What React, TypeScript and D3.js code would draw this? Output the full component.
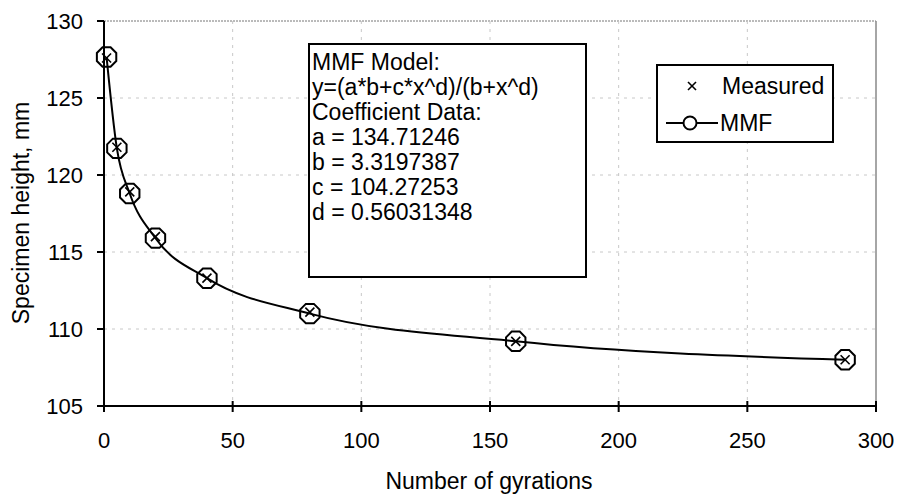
import React from "react";
import * as d3 from "d3";

const gyrations = [1, 5, 10, 20, 40, 80, 160, 288];
const measured = [127.6, 121.8, 118.9, 116.0, 113.3, 111.1, 109.2, 108.0];
const mmf = [127.66, 121.73, 118.8, 115.9, 113.3, 111.0, 109.2, 108.0];
const xTicks = [0, 50, 100, 150, 200, 250, 300];
const yTicks = [105, 110, 115, 120, 125, 130];
const boxLines = [
  "MMF Model:",
  "y=(a*b+c*x^d)/(b+x^d)",
  "Coefficient Data:",
  "a = 134.71246",
  "b = 3.3197387",
  "c = 104.27253",
  "d = 0.56031348",
];

const W = 900;
const H = 499;
const FONT = "'Liberation Sans', Arial, sans-serif";
const FS = 22;
const FL = 23;

function octagon(cx: number, cy: number, r: number) {
  const pts: string[] = [];
  for (let i = 0; i < 8; i++) {
    const a = Math.PI / 8 + (i * Math.PI) / 4;
    pts.push(`${cx + r * Math.cos(a)},${cy + r * Math.sin(a)}`);
  }
  return pts.join(" ");
}

function Cross({ cx, cy, s }: { cx: number; cy: number; s: number }) {
  return (
    <g stroke="#000" strokeWidth={1.6}>
      <line x1={cx - s} y1={cy - s} x2={cx + s} y2={cy + s} />
      <line x1={cx - s} y1={cy + s} x2={cx + s} y2={cy - s} />
    </g>
  );
}

export default function App() {
  const x = d3.scaleLinear().domain([0, 300]).range([104, 876]);
  const y = d3.scaleLinear().domain([105, 130]).range([406, 21]);
  const line = d3
    .line<number>()
    .x((_, i) => x(gyrations[i]))
    .y((d) => y(d))
    .curve(d3.curveMonotoneX);

  return (
    <svg
      width={W}
      height={H}
      style={{ position: "absolute", left: 0, top: 0, background: "#fff" }}
      fontFamily={FONT}
    >
      {/* grid */}
      {yTicks.slice(1).map((t) => (
        <line
          key={"gy" + t}
          x1={x(0)}
          x2={x(300)}
          y1={y(t)}
          y2={y(t)}
          stroke={t === 130 ? "#777" : "#c8c8c8"}
          strokeWidth={1}
          strokeDasharray={t === 130 ? "2,1" : "3,5"}
        />
      ))}
      {xTicks.slice(1, -1).map((t) => (
        <line
          key={"gx" + t}
          x1={x(t)}
          x2={x(t)}
          y1={y(130)}
          y2={y(105)}
          stroke="#c8c8c8"
          strokeWidth={1}
          strokeDasharray="3,5"
        />
      ))}
      {/* right border */}
      <line x1={x(300)} x2={x(300)} y1={y(130)} y2={y(105)} stroke="#888" strokeWidth={1.5} />
      {/* axes */}
      <line x1={x(0)} x2={x(0)} y1={y(130)} y2={y(105) + 1} stroke="#000" strokeWidth={2} />
      <line x1={x(0)} x2={x(300)} y1={y(105)} y2={y(105)} stroke="#000" strokeWidth={2} />
      {yTicks.map((t) => (
        <g key={"yt" + t}>
          <line x1={x(0) - 7} x2={x(0)} y1={y(t)} y2={y(t)} stroke="#000" strokeWidth={2} />
          <text x={x(0) - 21} y={y(t)} dy="0.36em" textAnchor="end" fontSize={FS}>
            {t}
          </text>
        </g>
      ))}
      {xTicks.map((t) => (
        <g key={"xt" + t}>
          <line x1={x(t)} x2={x(t)} y1={y(105) - 5} y2={y(105) + 6} stroke="#000" strokeWidth={2} />
          <text x={x(t)} y={y(105) + 34} dy="0.36em" textAnchor="middle" fontSize={FS}>
            {t}
          </text>
        </g>
      ))}
      <text x={489} y={481} dy="0.36em" textAnchor="middle" fontSize={FL}>
        Number of gyrations
      </text>
      <text
        transform={`translate(21,213) rotate(-90)`}
        dy="0.36em"
        textAnchor="middle"
        fontSize={FL}
      >
        Specimen height, mm
      </text>
      {/* MMF curve */}
      <path d={line(mmf) || ""} fill="none" stroke="#000" strokeWidth={2} />
      {mmf.map((v, i) => (
        <polygon
          key={"o" + i}
          points={octagon(x(gyrations[i]), y(v), 10.5)}
          fill="none"
          stroke="#000"
          strokeWidth={2}
        />
      ))}
      {measured.map((v, i) => (
        <Cross key={"m" + i} cx={x(gyrations[i])} cy={y(v)} s={4.5} />
      ))}
      {/* model box */}
      <rect x={309} y={44} width={277} height={233} fill="#fff" stroke="#000" strokeWidth={2} />
      {boxLines.map((t, i) => (
        <text key={"b" + i} x={312} y={70 + i * 25} fontSize={FL}>
          {t}
        </text>
      ))}
      {/* legend */}
      <rect x={657} y={65} width={176} height={77} fill="#fff" stroke="#000" strokeWidth={2} />
      <Cross cx={692} cy={86} s={4} />
      <text x={722} y={86} dy="0.36em" fontSize={FL}>
        Measured
      </text>
      <line x1={666} x2={718} y1={123} y2={123} stroke="#000" strokeWidth={2} />
      <circle cx={690} cy={123} r={6.5} fill="#fff" stroke="#000" strokeWidth={2} />
      <text x={720} y={123} dy="0.36em" fontSize={FL}>
        MMF
      </text>
    </svg>
  );
}
